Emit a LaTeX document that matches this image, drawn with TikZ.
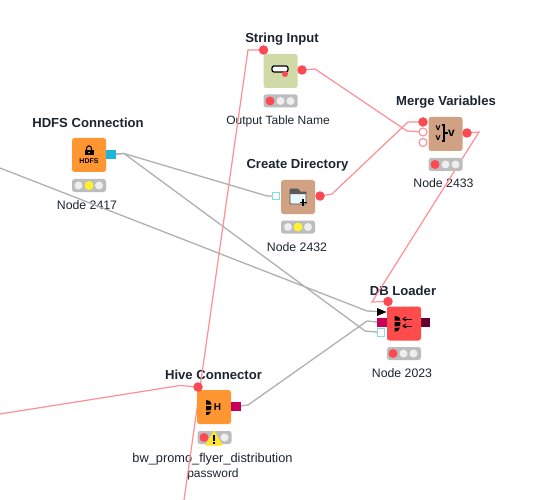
\documentclass[tikz,border=0pt]{standalone}
\usepackage{fontspec}
\setmainfont{Liberation Sans}
\definecolor{flowred}{HTML}{FF8F94}
\definecolor{dotred}{HTML}{FB4A53}
\definecolor{wire}{HTML}{B0B0B0}
\definecolor{inkc}{HTML}{1C2430}
\definecolor{orangeb}{HTML}{FF9632}
\definecolor{tanb}{HTML}{D0A283}
\definecolor{greenb}{HTML}{CFDAA6}
\definecolor{redb}{HTML}{FF4B4B}
\definecolor{crim}{HTML}{C8005A}
\definecolor{maroon}{HTML}{660033}
\definecolor{cyanp}{HTML}{1EB4DC}
\definecolor{cyanl}{HTML}{7FDDF2}
\definecolor{lightg}{HTML}{BDBDBD}
\definecolor{yellowl}{HTML}{FFF12E}
\definecolor{offl}{HTML}{EEEEEE}
\pgfdeclarelayer{page}
\pgfdeclarelayer{wires}
\pgfdeclarelayer{labels}
\pgfsetlayers{page,labels,wires,main}
\tikzset{
  x=1pt,y=-1pt,
  nodebox/.style={rectangle,rounded corners=2.5pt,minimum width=34pt,minimum height=34pt,inner sep=0pt,outer sep=0pt},
  lightsbar/.style={rectangle,rounded corners=2.5pt,fill=lightg,minimum width=34pt,minimum height=13pt,inner sep=0pt},
  lamp/.style={circle,minimum size=8pt,inner sep=0pt,fill=offl},
  redlamp/.style={lamp,fill=dotred,minimum size=9pt},
  yellowlamp/.style={lamp,fill=yellowl,minimum size=9pt},
  reddot/.style={circle,fill=dotred,minimum size=9.5pt,inner sep=0pt},
  openred/.style={circle,draw=flowred,line width=1.1pt,fill=white,minimum size=8pt,inner sep=0pt},
  sqport/.style={rectangle,minimum width=10pt,minimum height=9.5pt,inner sep=0pt},
  title/.style={font=\bfseries\fontsize{13.1}{15}\selectfont,text=inkc,inner sep=0pt},
  caption/.style={font=\fontsize{12}{14}\selectfont,text=inkc,inner sep=0pt},
  flow/.style={draw=flowred,line width=1.2pt},
  data/.style={draw=wire,line width=1.3pt},
}
\begin{document}
\begin{tikzpicture}
\useasboundingbox (0,0) rectangle (541,500);
\begin{pgfonlayer}{page}
\fill[white] (0,0) rectangle (541,500);
\end{pgfonlayer}

% ---------- String Input
\node[nodebox,fill=greenb] (si) at (280.5,71) {};
\node[reddot] (siin) at (263.5,50) {};
\node[reddot] (siout) at (302,70) {};
\node[lightsbar] (sil) at (280.5,101) {};
\node[redlamp] (sil1) at (270,101) {};
\node[lamp] (sil2) at (280.5,101) {};
\node[lamp] (sil3) at (290.5,101) {};
\draw[black,line width=1.2pt,fill=white,rounded corners=2pt] (272,66) rectangle (288,72);
\fill[dotred] (285,74) circle (3);

% ---------- Merge Variables
\node[nodebox,fill=tanb] (mv) at (445.5,134) {};
\node[reddot] (mvi1) at (423,122) {};
\node[openred] (mvi2) at (423,132) {};
\node[openred] (mvi3) at (423,142.5) {};
\node[reddot] (mvout) at (467,133) {};
\node[lightsbar] (mvl) at (445.5,164.5) {};
\node[redlamp] (mvl1) at (435,164.5) {};
\node[lamp] (mvl2) at (445.5,164.5) {};
\node[lamp] (mvl3) at (455.5,164.5) {};
\node[inner sep=0pt,font=\bfseries\fontsize{9}{7}\selectfont] (mvg1) at (438.2,128) {v};
\node[inner sep=0pt,font=\bfseries\fontsize{9}{7}\selectfont] (mvg2) at (438.2,138.5) {v};
\node[inner sep=0pt,font=\bfseries\fontsize{12}{11}\selectfont] (mvg3) at (451.5,133) {v};
\draw[black,line width=1.1pt] (441.5,125) -- (444,125) -- (444,141) -- (441.5,141);
\draw[black,line width=1.1pt] (444,133) -- (448,133);

% ---------- HDFS Connection
\node[nodebox,fill=orangeb] (hd) at (89,155) {};
\node[sqport,fill=cyanp] (hdout) at (111,154.5) {};
\node[lightsbar] (hdl) at (89,185.5) {};
\node[lamp] (hdl1) at (78.5,185.5) {};
\node[yellowlamp] (hdl2) at (89,185.5) {};
\node[lamp] (hdl3) at (99,185.5) {};
\draw[black,line width=1.1pt] (86.5,151) -- (86.5,148.5) .. controls (86.5,145) and (91.5,145) .. (91.5,148.5) -- (91.5,151);
\fill[black] (84.5,150) rectangle (93.5,155.5);
\fill[orangeb] (89,152.7) circle (1);
\node[inner sep=0pt,font=\bfseries\fontsize{7}{7}\selectfont] (hdg) at (89,161.5) {HDFS};

% ---------- Create Directory
\node[nodebox,fill=tanb] (cd) at (298,197) {};
\node[sqport,draw=cyanl,line width=1.3pt,fill=white,minimum width=7.5pt,minimum height=7.5pt] (cdin) at (276,196) {};
\node[reddot] (cdout) at (320,196) {};
\node[lightsbar] (cdl) at (298,227) {};
\node[lamp] (cdl1) at (288,227) {};
\node[yellowlamp] (cdl2) at (298,227) {};
\node[lamp] (cdl3) at (308,227) {};
\draw[fill=white!90!cyanp,draw=black!70,line width=.8pt,rounded corners=.8pt] (290,189) -- (290,204) -- (306,204) -- (306,192) -- (300,192) -- (298,189) -- cycle;
\fill[black!65] (290,189) -- (298,189) -- (300,192) -- (306,192) -- (306,194) -- (290,194) -- cycle;
\draw[black,line width=1.6pt] (303,199) -- (303,206) (299.5,202.5) -- (306.5,202.5);

% ---------- DB Loader
\node[reddot] (dbv) at (388,301.5) {};
\node[sqport,fill=maroon,minimum width=12pt] (dbout) at (424,322.5) {};
\node[sqport,fill=crim] (dbi2) at (382,322.5) {};
\node[sqport,draw=cyanl,line width=1.3pt,fill=white,minimum width=7.5pt,minimum height=7.5pt] (dbi3) at (381,332.5) {};
\path[fill=black] (377,308) -- (386.5,312) -- (377,316) -- cycle;
\coordinate (dbi1) at (378,311.5);
\node[nodebox,fill=redb] (db) at (404,323.5) {};
\node[lightsbar] (dbl) at (404,353.5) {};
\node[redlamp] (dbl1) at (393,353.5) {};
\node[lamp] (dbl2) at (403.5,353.5) {};
\node[lamp] (dbl3) at (413.5,353.5) {};
\fill[black] (394.5,316) -- (399,317) -- (400.5,320.5) -- (394.5,320.5) -- cycle;
\fill[black] (394.5,322) -- (400.5,322) -- (400,326) -- (394.5,326.5) -- cycle;
\fill[black] (394.5,328) -- (400,327.5) -- (398,331) -- (394.5,331.5) -- cycle;
\draw[black,line width=.9pt] (403,319) -- (412,319) (403,326) -- (412,326);
\draw[black,line width=.9pt] (406,317) -- (403,319) -- (406,321) (406,324) -- (403,326) -- (406,328);

% ---------- Hive Connector
\node[nodebox,fill=orangeb] (hv) at (214,407) {};
\node[reddot] (hvin) at (198,387) {};
\node[sqport,fill=crim] (hvout) at (236,406.5) {};
\node[lightsbar] (hvl) at (214.5,437.5) {};
\node[redlamp] (hvl1) at (204,437.5) {};
\node[lamp] (hvl3) at (224.5,437.5) {};
\fill[black] (206,400) -- (210,401) -- (211.5,404.5) -- (206,404.5) -- cycle;
\fill[black] (206,406) -- (211.5,406) -- (211,410) -- (206,410.5) -- cycle;
\fill[black] (206,412) -- (211,411.5) -- (209,414.5) -- (206,415) -- cycle;
\node[inner sep=0pt,font=\bfseries\fontsize{10}{10}\selectfont] (hvg) at (217.5,407.5) {H};
\path[fill=yellowl!90!orange,draw=yellowl!90!orange,line width=1pt,line join=round] (214,431) -- (222,445) -- (206,445) -- cycle;
\fill[black] (213.2,434.5) rectangle (214.8,441);
\fill[black] (213.2,442) rectangle (214.8,444);

% ---------- labels
\begin{pgfonlayer}{labels}
\node[title] (t1) at (282,39) {String Input};
\node[caption] (c1) at (278,121) {Output Table Name};
\node[title] (t2) at (446,102) {Merge Variables};
\node[caption,font=\fontsize{12.3}{14}\selectfont] (c2) at (443.5,183.5) {Node 2433};
\node[title] (t3) at (88,123) {HDFS Connection};
\node[caption,font=\fontsize{12.3}{14}\selectfont] (c3) at (87,205) {Node 2417};
\node[title] (t4) at (297.5,165) {Create Directory};
\node[caption,font=\fontsize{12.3}{14}\selectfont] (c4) at (297,247) {Node 2432};
\node[title] (t5) at (403,291) {DB Loader};
\node[caption,font=\fontsize{12.3}{14}\selectfont] (c5) at (402,373) {Node 2023};
\node[title] (t6) at (213.5,375) {Hive Connector};
\node[caption,font=\fontsize{12.8}{14}\selectfont] (c6) at (212.5,459) {bw\_promo\_flyer\_distribution};
\node[caption] (c7) at (213,474) {password};
\end{pgfonlayer}

% ---------- connectors
\coordinate (leftflow) at (0,414);
\coordinate (leftdata) at (0,168);
\coordinate (downflow) at (184,500);
\begin{pgfonlayer}{wires}
\draw[flow] (siin.center) -- (248,50) -- (downflow);
\draw[flow] (siout.center) -- (315,69) -- (407,131) -- (mvi2.center);
\draw[flow] (cdout.center) -- (332,194) -- (408,122) -- (mvi1.center);
\draw[flow] (mvout.center) -- (479,132) -- (372,302) -- (dbv.center);
\draw[flow] (leftflow) -- (180,385.5) -- (hvin.center);
\draw[data] (hdout.center) -- (124,153.5) -- (267,196) -- (cdin.center);
\draw[data] (hdout.center) -- (124,153.5) -- (365,331) -- (dbi3.center);
\draw[data] (leftdata) -- (367,311) -- (dbi1);
\draw[data] (hvout.center) -- (248,405) -- (367,321) -- (dbi2.center);
\end{pgfonlayer}
\end{tikzpicture}
\end{document}
